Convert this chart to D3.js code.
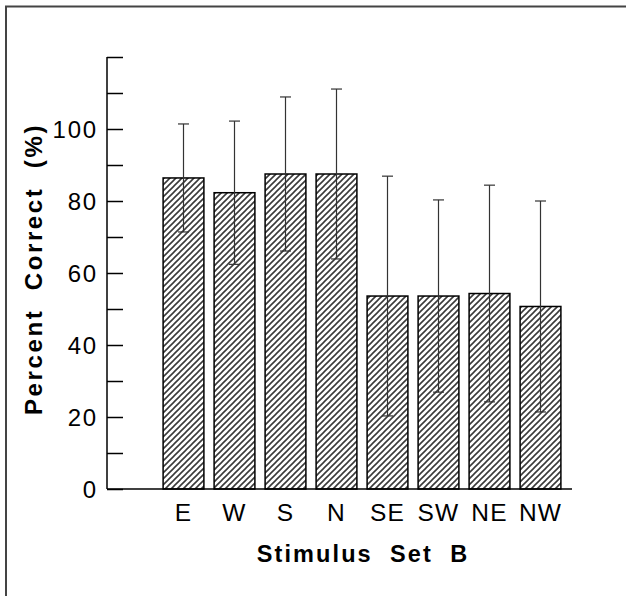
<!DOCTYPE html>
<html>
<head>
<meta charset="utf-8">
<script src="https://cdn.jsdelivr.net/npm/d3@7"></script>
<style>
  body { margin: 0; background: #fff; }
  svg { display: block; font-family: "Liberation Sans", Arial, sans-serif; }
</style>
</head>
<body>
<script>
// data
const categories = ["E", "W", "S", "N", "SE", "SW", "NE", "NW"];
const means = [86.4, 82.3, 87.5, 87.5, 53.6, 53.6, 54.3, 50.7];
const errors = [15.0, 19.9, 21.4, 23.6, 33.3, 26.7, 30.1, 29.3];
const yTicks = [0, 10, 20, 30, 40, 50, 60, 70, 80, 90, 100, 110, 120];
const yLabels = [0, 20, 40, 60, 80, 100];

const width = 626, height = 596;

const svg = d3.select("body").append("svg")
    .attr("width", width)
    .attr("height", height);

// hatching
const defs = svg.append("defs");
defs.append("pattern")
    .attr("id", "hatch")
    .attr("patternUnits", "userSpaceOnUse")
    .attr("width", 6)
    .attr("height", 6)
  .append("path")
    .attr("d", "M-1,1 l2,-2 M0,6 l6,-6 M5,7 l2,-2")
    .attr("stroke", "#3a3a3a")
    .attr("stroke-width", 1.6);

// frame
svg.append("rect")
    .attr("x", 6).attr("y", 6.5)
    .attr("width", width + 20).attr("height", height + 20)
    .attr("fill", "none")
    .attr("stroke", "#444")
    .attr("stroke-width", 2);

const x = d3.scaleBand()
    .domain(categories)
    .range([158, 566])
    .paddingInner(0.2)
    .paddingOuter(0.1);

const y = d3.scaleLinear()
    .domain([0, 120])
    .range([489, 57]);

const axisX = 107;

// bars
svg.append("g").selectAll("rect")
    .data(categories)
    .join("rect")
    .attr("x", d => x(d))
    .attr("y", (d, i) => y(means[i]))
    .attr("width", x.bandwidth())
    .attr("height", (d, i) => y(0) - y(means[i]))
    .attr("fill", "url(#hatch)")
    .attr("stroke", "#000")
    .attr("stroke-width", 1.5);

// error bars
const eb = svg.append("g")
    .attr("stroke", "#333")
    .attr("stroke-width", 1.2);
const cap = 5.5;
categories.forEach((c, i) => {
    const cx = x(c) + x.bandwidth() / 2;
    const top = y(means[i] + errors[i]);
    const bot = y(means[i] - errors[i]);
    eb.append("line").attr("x1", cx).attr("x2", cx).attr("y1", top).attr("y2", bot);
    eb.append("line").attr("x1", cx - cap).attr("x2", cx + cap).attr("y1", top).attr("y2", top);
    eb.append("line").attr("x1", cx - cap).attr("x2", cx + cap).attr("y1", bot).attr("y2", bot);
});

// y axis, ticks inside
const yAxis = svg.append("g")
    .attr("transform", `translate(${axisX},0)`)
    .call(d3.axisRight(y).tickValues(yTicks).tickSize(16).tickFormat(""));
yAxis.select(".domain").attr("d", `M0,${y(120)}V${y(0)}`).attr("stroke", "#000").attr("stroke-width", 1.5);
yAxis.selectAll(".tick line").attr("stroke", "#000").attr("stroke-width", 1.5);

svg.append("g").selectAll("text")
    .data(yLabels)
    .join("text")
    .attr("x", 98)
    .attr("y", d => y(d) + 8.5)
    .attr("text-anchor", "end")
    .attr("font-size", 24)
    .attr("letter-spacing", 1.8)
    .text(d => d);

// baseline
svg.append("line")
    .attr("x1", axisX).attr("x2", 572)
    .attr("y1", y(0)).attr("y2", y(0))
    .attr("stroke", "#000")
    .attr("stroke-width", 1.5);

// x labels
svg.append("g").selectAll("text")
    .data(categories)
    .join("text")
    .attr("x", d => x(d) + x.bandwidth() / 2)
    .attr("y", 521)
    .attr("text-anchor", "middle")
    .attr("font-size", 24.5)
    .attr("letter-spacing", 1.2)
    .text(d => d);

// titles
svg.append("text")
    .attr("x", 363)
    .attr("y", 562)
    .attr("text-anchor", "middle")
    .attr("font-size", 23.5)
    .attr("font-weight", "bold")
    .attr("letter-spacing", 2.1)
    .attr("xml:space", "preserve")
    .style("white-space", "pre")
    .text("Stimulus  Set  B");

svg.append("text")
    .attr("transform", "translate(42,269) rotate(-90)")
    .attr("text-anchor", "middle")
    .attr("font-size", 24)
    .attr("font-weight", "bold")
    .attr("letter-spacing", 2.6)
    .attr("xml:space", "preserve")
    .style("white-space", "pre")
    .text("Percent  Correct  (%)");
</script>
</body>
</html>
